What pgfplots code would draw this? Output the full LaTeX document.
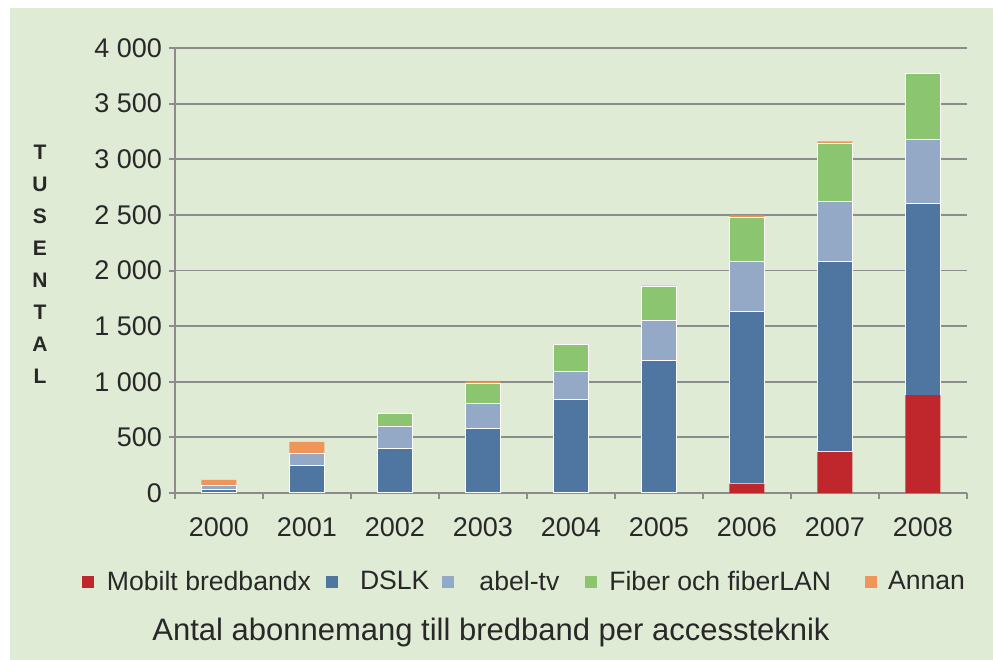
\documentclass[border=0pt]{standalone}
\usepackage{pgfplots}
\pgfplotsset{compat=1.18}
\usepackage{fontspec}
\setmainfont{Liberation Sans}
\definecolor{bg}{RGB}{223,235,212}
\definecolor{mob}{RGB}{192,39,45}
\definecolor{dsl}{RGB}{79,118,160}
\definecolor{kab}{RGB}{147,169,198}
\definecolor{fib}{RGB}{140,197,111}
\definecolor{ann}{RGB}{240,149,90}
\definecolor{gridc}{RGB}{140,140,140}
\definecolor{txt}{RGB}{40,40,40}
\begin{document}
\begin{tikzpicture}
\path[use as bounding box] (0,0) rectangle (496.5pt,330pt);
\fill[white] (0,0) rectangle (496.5pt,330pt);
\fill[bg] (5pt,0) rectangle (496.5pt,326pt);
\begin{axis}[
  at={(87.5pt,83.5pt)}, anchor=south west,
  width=396pt, height=222.5pt, scale only axis,
  ybar stacked, bar width=17.5pt,
  xmin=-0.5, xmax=8.5, ymin=0, ymax=4000,
  axis lines*=left,
  axis line style={gridc, line width=1pt},
  xtick={0,1,2,3,4,5,6,7,8},
  xticklabels={2000,2001,2002,2003,2004,2005,2006,2007,2008},
  major x tick style={draw=none},
  minor xtick={-0.5,0.5,1.5,2.5,3.5,4.5,5.5,6.5,7.5,8.5},
  minor x tick style={gridc, line width=1pt},
  minor tick length=3pt,
  major tick length=3pt,
  tick align=outside,
  ytick={0,500,1000,1500,2000,2500,3000,3500,4000},
  y tick style={gridc, line width=1pt},
  ymajorgrids,
  grid style={gridc, line width=0.9pt},
  scaled y ticks=false,
  /pgf/number format/1000 sep={\ },
  /pgf/number format/assume math mode=true,
  tick label style={font=\fontsize{13.5}{15}\selectfont, text=txt},
  xticklabel style={yshift=-6pt},
  legend style={
    at={(-0.118,-0.2)}, anchor=west,
    draw=none, fill=none, inner sep=0pt,
    font=\fontsize{13.3}{15}\selectfont, text=txt,
    column sep=0pt,
    nodes={inner xsep=0pt, inner ysep=2pt},
  },
  legend columns=5,
  legend image code/.code={\fill[#1,draw=none] (0pt,-3pt) rectangle (6pt,3pt);},
]
\addplot[fill=mob, draw=none] coordinates {(0,0) (1,0) (2,0) (3,0) (4,0) (5,0) (6,85) (7,370) (8,880)};
\addplot[fill=dsl, draw=white, line width=0.5pt] coordinates {(0,35) (1,245) (2,400) (3,580) (4,836) (5,1195) (6,1545) (7,1710) (8,1725)};
\addplot[fill=kab, draw=white, line width=0.5pt] coordinates {(0,30) (1,110) (2,195) (3,220) (4,255) (5,360) (6,450) (7,540) (8,570)};
\addplot[fill=fib, draw=white, line width=0.5pt] coordinates {(0,0) (1,0) (2,120) (3,185) (4,240) (5,305) (6,400) (7,525) (8,595)};
\addplot[fill=ann, draw=none] coordinates {(0,52) (1,105) (2,3) (3,15) (4,5) (5,5) (6,15) (7,15) (8,5)};
\legend{\rule{6.5pt}{0pt}Mobilt bredbandx\rule{7.5pt}{0pt},\rule{11pt}{0pt}DSLK\rule{6.5pt}{0pt},\rule{12.5pt}{0pt}abel-tv\rule{13pt}{0pt},\rule{6pt}{0pt}Fiber och fiberLAN\rule{17pt}{0pt},\rule{5.5pt}{0pt}Annan}
\end{axis}
\node[font=\bfseries\fontsize{10.5}{16}\selectfont, text=txt, align=center] at (20pt,198pt) {T\\U\\S\\E\\N\\T\\A\\L};
\node[font=\fontsize{15.5}{18}\selectfont, text=txt] at (245.5pt,14pt) {Antal abonnemang till bredband per accessteknik};
\end{tikzpicture}
\end{document}
